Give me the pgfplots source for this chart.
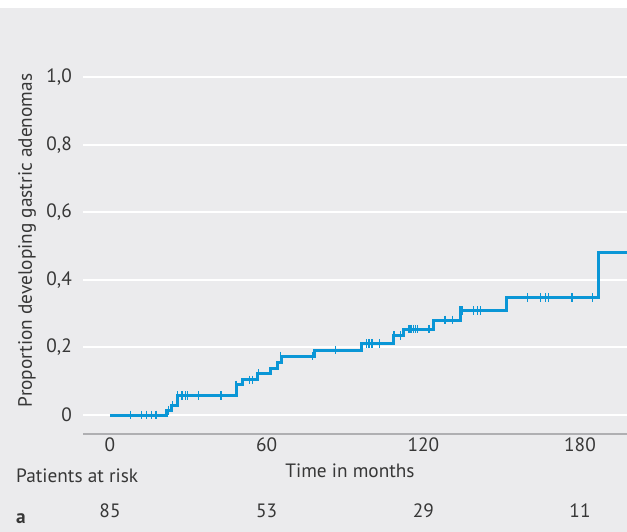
\documentclass[border=0pt]{standalone}
\usepackage{fontspec}
\setmainfont{PT Sans}
\usepackage{pgfplots}
\pgfplotsset{compat=1.18}
\definecolor{bg}{RGB}{235,235,237}
\definecolor{kmblue}{RGB}{10,150,214}
\definecolor{txt}{RGB}{55,55,55}
\definecolor{axgray}{RGB}{175,175,178}

\begin{document}
\fontsize{19.3}{22}\selectfont
\begin{tikzpicture}[x=1pt,y=1pt]
\path[use as bounding box] (0,0) rectangle (627,532);
\fill[bg] (0,0) rectangle (627,524);
\begin{axis}[
  at={(83pt,98pt)}, anchor=south west,
  scale only axis, width=544pt, height=384pt,
  xmin=-10.34, xmax=198, ymin=-0.0562, ymax=1.08,
  axis x line*=bottom, axis y line*=left,
  x axis line style={draw=axgray, line width=2pt, -},
  y axis line style={draw=none},
  xtick={0,60,120,180},
  ytick={0,0.2,0.4,0.6,0.8,1.0},
  yticklabels={0,{0,2},{0,4},{0,6},{0,8},{1,0}},
  ymajorgrids, grid style={white, line width=2pt},
  major tick length=0pt,
  tick style={draw=none},
  /pgf/number format/assume math mode=true,
  ticklabel style={font=\fontsize{19.3}{22}\selectfont, text=txt},
  xticklabel style={anchor=base, yshift=-18pt, inner sep=0pt},
  yticklabel style={anchor=east, xshift=-11pt, inner sep=0pt},
  clip=false,
]
\addplot[const plot, kmblue, line width=3pt] coordinates {
(0,0) (21.7,0.013) (23.7,0.028) (25.9,0.057) (48.5,0.089) (50.6,0.104)
(56.5,0.123) (61.5,0.138) (64.2,0.156) (65.6,0.174) (78.5,0.192)
(96.4,0.212) (108.5,0.235) (112.3,0.254) (124,0.281) (134.3,0.309)
(151.8,0.348) (187,0.48) (198,0.48)
};
\addplot[only marks, mark=|, mark size=4.3pt, mark options={kmblue, line width=1.3pt}] coordinates {
(7.8,0) (12,0) (14,0) (16,0) (17.6,0)
(22.3,0.013) (24.0,0.028)
(25.9,0.057) (27.6,0.057) (28.8,0.057) (29.6,0.057) (33.9,0.057) (42.5,0.057)
(48.3,0.089) (53.3,0.104) (54.5,0.104) (56.8,0.123)
(65.3,0.174) (77.5,0.174) (86.4,0.192)
(98.3,0.212) (99.2,0.212) (100.3,0.212) (103.3,0.212)
(108.8,0.235) (111.3,0.235)
(114.5,0.254) (115.3,0.254) (116.1,0.254) (116.9,0.254) (117.7,0.254) (122.2,0.254)
(128.3,0.281) (131.1,0.281)
(134.0,0.309) (134.8,0.309) (139.2,0.309) (140.7,0.309) (141.8,0.309)
(160,0.348) (165,0.348) (166.9,0.348) (168,0.348) (176.9,0.348) (184.9,0.348)
};
\end{axis}
\node[anchor=base, text=txt, inner sep=0pt] at (350,54) {Time in months};
\node[anchor=base west, text=txt, inner sep=0pt] at (16,49.3) {Patients at risk};
\node[anchor=base, text=txt, inner sep=0pt] at (110,14.7) {85};
\node[anchor=base, text=txt, inner sep=0pt] at (266.7,14.7) {53};
\node[anchor=base, text=txt, inner sep=0pt] at (423.3,14.7) {29};
\node[anchor=base, text=txt, inner sep=0pt] at (580,14.7) {11};
\node[anchor=base west, text=txt, inner sep=0pt, font=\bfseries] at (16,8) {a};
\node[rotate=90, anchor=base, text=txt, inner sep=0pt] at (32,291.5) {Proportion developing gastric adenomas};
\end{tikzpicture}
\end{document}
